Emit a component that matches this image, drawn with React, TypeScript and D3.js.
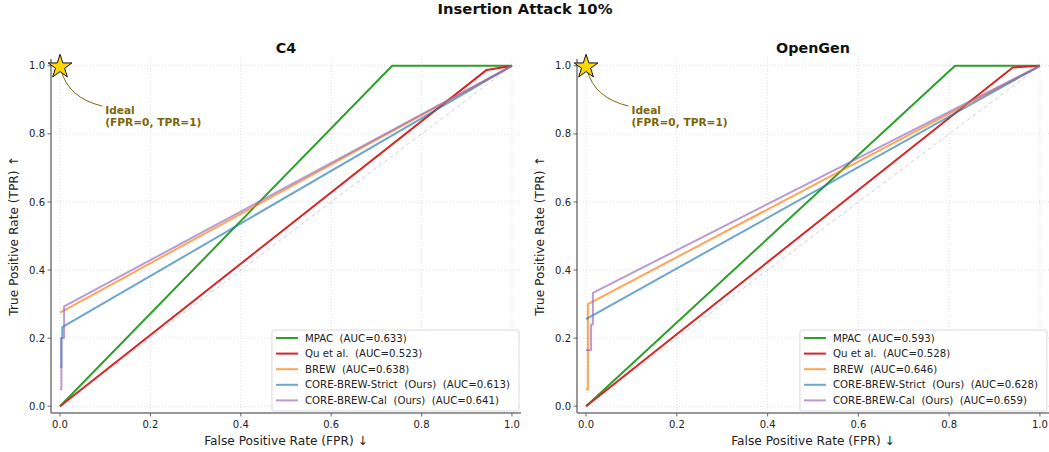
import React from "react";
import * as d3 from "d3";

const suptitle = "Insertion Attack 10%";
const panelTitles = ["C4", "OpenGen"];
const tickValues = [0, 0.2, 0.4, 0.6, 0.8, 1.0];
const seriesNames = ["MPAC", "Qu et al.", "BREW", "CORE-BREW-Strict  (Ours)", "CORE-BREW-Cal  (Ours)"];
const seriesColors = ["#2ca02c", "#d62728", "#ff7f0e", "#1f77b4", "#9467bd"];
const seriesOpacity = [1, 1, 0.7, 0.65, 0.65];

// C4 panel
const c4MpacX = [0, 0.735, 1];
const c4MpacY = [0, 1, 1];
const c4QuX = [0, 0.944, 1];
const c4QuY = [0, 0.988, 1];
const c4BrewX = [0, 1];
const c4BrewY = [0.275, 1];
const c4StrictX = [0, 0.003, 0.003, 0.005, 0.005, 1];
const c4StrictY = [0.115, 0.115, 0.2, 0.2, 0.232, 1];
const c4CalX = [0, 0.003, 0.003, 0.009, 0.009, 1];
const c4CalY = [0.05, 0.05, 0.2, 0.2, 0.293, 1];
const c4Auc = ["0.633", "0.523", "0.638", "0.613", "0.641"];

// OpenGen panel
const ogMpacX = [0, 0.813, 1];
const ogMpacY = [0, 1, 1];
const ogQuX = [0, 0.94, 1];
const ogQuY = [0, 0.995, 1];
const ogBrewX = [0, 0.004, 0.004, 1];
const ogBrewY = [0.05, 0.05, 0.3, 1];
const ogStrictX = [0, 1];
const ogStrictY = [0.256, 1];
const ogCalX = [0, 0.011, 0.011, 0.015, 0.015, 1];
const ogCalY = [0.165, 0.165, 0.24, 0.24, 0.333, 1];
const ogAuc = ["0.593", "0.528", "0.646", "0.628", "0.659"];

const panels = [
  {
    title: panelTitles[0],
    xs: [c4MpacX, c4QuX, c4BrewX, c4StrictX, c4CalX],
    ys: [c4MpacY, c4QuY, c4BrewY, c4StrictY, c4CalY],
    auc: c4Auc,
    left: 51,
    right: 521,
  },
  {
    title: panelTitles[1],
    xs: [ogMpacX, ogQuX, ogBrewX, ogStrictX, ogCalX],
    ys: [ogMpacY, ogQuY, ogBrewY, ogStrictY, ogCalY],
    auc: ogAuc,
    left: 577,
    right: 1049,
  },
];

const FONT = "'DejaVu Sans', sans-serif";
const TOP = 59;
const BOTTOM = 413;

function Panel({ p }: { p: (typeof panels)[number] }) {
  const x = d3.scaleLinear().domain([-0.02, 1.02]).range([p.left, p.right]);
  const y = d3.scaleLinear().domain([-0.02, 1.02]).range([BOTTOM, TOP]);
  const line = d3
    .line<[number, number]>()
    .x((d) => x(d[0]))
    .y((d) => y(d[1]));
  const legW = 247;
  const legX = x(1.0) + 7 - legW;
  const legY = 330;
  const rowH = 15.6;
  const star = d3.symbol().type(d3.symbolStar).size(175)();
  const sx = x(0);
  const sy = y(1);
  const tx = x(0.1);
  const ty = y(0.87);
  return (
    <g>
      {/* grid */}
      {tickValues.map((t) => (
        <g key={"g" + t}>
          <line x1={x(t)} x2={x(t)} y1={TOP} y2={BOTTOM} stroke="#d4d4d4" strokeWidth={0.8} strokeDasharray="1,2" />
          <line x1={p.left} x2={p.right} y1={y(t)} y2={y(t)} stroke="#d4d4d4" strokeWidth={0.8} strokeDasharray="1,2" />
        </g>
      ))}
      {/* diagonal */}
      <path d={line([[0, 0], [1, 1]]) || ""} stroke="#b0b0b0" strokeOpacity={0.6} strokeWidth={1} strokeDasharray="4,3" fill="none" />
      {p.xs.map((xs, i) => (
        <path
          key={"s" + i}
          d={line(xs.map((v, j) => [v, p.ys[i][j]] as [number, number])) || ""}
          stroke={seriesColors[i]}
          strokeOpacity={seriesOpacity[i]}
          strokeWidth={2}
          fill="none"
          strokeLinejoin="round"
        />
      ))}
      {/* spines */}
      <line x1={p.left} x2={p.left} y1={TOP} y2={BOTTOM} stroke="#777" strokeWidth={1.5} />
      <line x1={p.left} x2={p.right} y1={BOTTOM} y2={BOTTOM} stroke="#777" strokeWidth={1.5} />
      {/* ticks */}
      {tickValues.map((t) => (
        <g key={"t" + t} fontFamily={FONT} fontSize={10} fill="#222">
          <line x1={x(t)} x2={x(t)} y1={BOTTOM} y2={BOTTOM + 3.5} stroke="#444" strokeWidth={0.8} />
          <text x={x(t)} y={BOTTOM + 15} textAnchor="middle">{d3.format(".1f")(t)}</text>
          <line x1={p.left} x2={p.left - 3.5} y1={y(t)} y2={y(t)} stroke="#444" strokeWidth={0.8} />
          <text x={p.left - 6} y={y(t) + 3.6} textAnchor="end">{d3.format(".1f")(t)}</text>
        </g>
      ))}
      {/* labels */}
      <text x={x(0.5)} y={445} textAnchor="middle" fontFamily={FONT} fontSize={12.2} fill="#222">
        False Positive Rate (FPR) ↓
      </text>
      <text
        transform={`translate(${p.left - 33},${y(0.5)}) rotate(-90)`}
        textAnchor="middle"
        fontFamily={FONT}
        fontSize={12.2}
        fill="#222"
      >
        True Positive Rate (TPR) ↑
      </text>
      <text x={x(0.5)} y={53} textAnchor="middle" fontFamily={FONT} fontSize={14.3} fontWeight="bold" fill="#111">
        {p.title}
      </text>
      {/* annotation */}
      <path d={`M${tx - 3},${ty - 4} Q${sx + 8},${sy + 32} ${sx + 1},${sy + 4}`} stroke="#7d6608" strokeWidth={1} fill="none" />
      <path d={star || ""} transform={`translate(${sx},${sy + 1})`} fill="#ffd700" stroke="#111" strokeWidth={1} />
      <text x={tx} y={ty + 4} fontFamily={FONT} fontSize={10.6} fontWeight="bold" fill="#7d6608">
        <tspan x={tx}>Ideal</tspan>
        <tspan x={tx} dy={11.5}>(FPR=0, TPR=1)</tspan>
      </text>
      {/* legend */}
      <rect x={legX} y={legY} width={legW} height={81} rx={2} fill="white" fillOpacity={0.85} stroke="#d0d0d0" strokeWidth={0.8} />
      {seriesNames.map((n, i) => (
        <g key={"l" + i}>
          <line
            x1={legX + 4}
            x2={legX + 26}
            y1={legY + 8 + i * rowH}
            y2={legY + 8 + i * rowH}
            stroke={seriesColors[i]}
            strokeOpacity={seriesOpacity[i]}
            strokeWidth={2}
          />
          <text
            x={legX + 33}
            y={legY + 11.6 + i * rowH}
            fontFamily={FONT}
            fontSize={10.2}
            fill="#222"
            style={{ whiteSpace: "pre" }}
            xmlSpace="preserve"
          >
            {`${n}  (AUC=${p.auc[i]})`}
          </text>
        </g>
      ))}
    </g>
  );
}

export default function App() {
  return (
    <svg width={1049} height={452} style={{ position: "absolute", left: 0, top: 0, background: "white" }}>
      <rect width={1049} height={452} fill="white" />
      <text x={525} y={14} textAnchor="middle" fontFamily={FONT} fontSize={14.8} fontWeight="bold" fill="#111">
        {suptitle}
      </text>
      {panels.map((p, i) => (
        <Panel key={i} p={p} />
      ))}
    </svg>
  );
}
